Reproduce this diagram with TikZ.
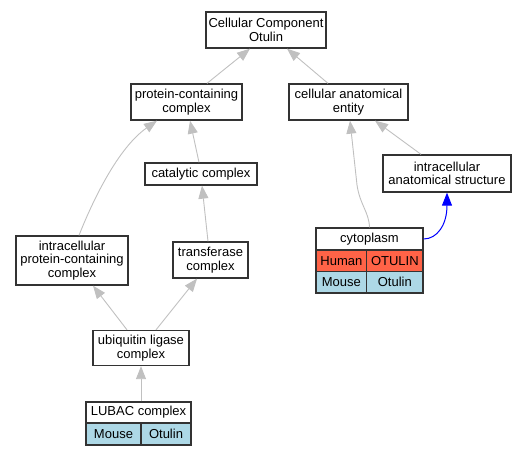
\documentclass[tikz,border=0pt]{standalone}
\usepackage{fontspec}
\setmainfont{Liberation Sans}
\usetikzlibrary{arrows.meta}
\definecolor{edgegray}{HTML}{C0C0C0}
\definecolor{human}{HTML}{FF6347}
\definecolor{mouse}{HTML}{ADD8E6}
\tikzset{
  box/.style={draw=black!80, line width=1.3pt, fill=white, align=center, inner sep=0pt,
    font=\fontsize{13}{13.5}\selectfont},
  cell/.style={draw=black!80, line width=1.1pt, align=center, inner sep=0pt,
    font=\fontsize{13}{13.5}\selectfont},
  isa/.style={draw=edgegray, line width=0.9pt, -{Triangle[length=13pt,width=10pt]}},
  blueedge/.style={draw=blue, line width=1pt, -{Triangle[length=13pt,width=10pt]}},
}
\begin{document}
\begin{tikzpicture}[x=1pt,y=-1pt]
\useasboundingbox (0,0) rectangle (527,456);
% nodes
\node[box, minimum width=120, minimum height=36] (cc) at (266,30) {Cellular Component\\Otulin};
\node[box, minimum width=111, minimum height=36] (pcc) at (186.5,102) {protein-containing\\complex};
\node[box, minimum width=119, minimum height=36] (cae) at (348.5,102) {cellular anatomical\\entity};
\node[box, minimum width=112, minimum height=22] (cat) at (201,174) {catalytic complex};
\node[box, minimum width=128, minimum height=37] (ias) at (447,173.5) {intracellular\\anatomical structure};
\node[box, minimum width=112, minimum height=49] (ipc) at (72,260.5) {intracellular\\protein-containing\\complex};
\node[box, minimum width=75, minimum height=36] (tra) at (210.5,260) {transferase\\complex};
\node[box, minimum width=96, minimum height=35] (ubi) at (141,348) {ubiquitin ligase\\complex};
% cytoplasm table
\node[cell, fill=white, minimum width=107, minimum height=22] (cyto) at (369.5,239) {cytoplasm};
\node[cell, fill=human, minimum width=50.7, minimum height=21.5] (cyhl) at (341.35,260.75) {Human};
\node[cell, fill=human, minimum width=56.3, minimum height=21.5] (cyhr) at (394.85,260.75) {OTULIN};
\node[cell, fill=mouse, minimum width=50.7, minimum height=21.5] (cyml) at (341.35,282.25) {Mouse};
\node[cell, fill=mouse, minimum width=56.3, minimum height=21.5] (cymr) at (394.85,282.25) {Otulin};
% LUBAC table
\node[cell, fill=white, minimum width=105, minimum height=21] (lub) at (138.5,412.5) {LUBAC complex};
\node[cell, fill=mouse, minimum width=55, minimum height=22] (lubl) at (113.5,434) {Mouse};
\node[cell, fill=mouse, minimum width=50, minimum height=22] (lubr) at (166,434) {Otulin};
% edges
\draw[isa] ([xshift=20.5pt]pcc.north) -- ([xshift=-16pt]cc.south);
\draw[isa] ([xshift=-20.5pt]cae.north) -- ([xshift=21pt]cc.south);
\draw[isa] ([xshift=-2pt]cat.north) -- ([xshift=3.5pt]pcc.south);
\draw[isa] ([xshift=7pt]ipc.north) .. controls (93,200) and (118,148) .. ([xshift=-29.5pt]pcc.south);
\draw[isa] ([xshift=-2.5pt]tra.north) -- ([xshift=1pt]cat.south);
\draw[isa] ([xshift=-14pt]ubi.north) -- ([xshift=21pt]ipc.south);
\draw[isa] ([xshift=15pt]ubi.north) -- ([xshift=-13.5pt]tra.south);
\draw[isa] ([xshift=2.5pt]lub.north) -- (ubi.south);
\draw[isa] (cyto.north) .. controls (369,212) and (360,205) .. (357,185) -- ([xshift=1.5pt]cae.south);
\draw[isa] ([xshift=-26pt]ias.north) -- ([xshift=26.5pt]cae.south);
\draw[blueedge] (cyto.east) .. controls (437,239) and (447,225) .. (ias.south);
\end{tikzpicture}
\end{document}
